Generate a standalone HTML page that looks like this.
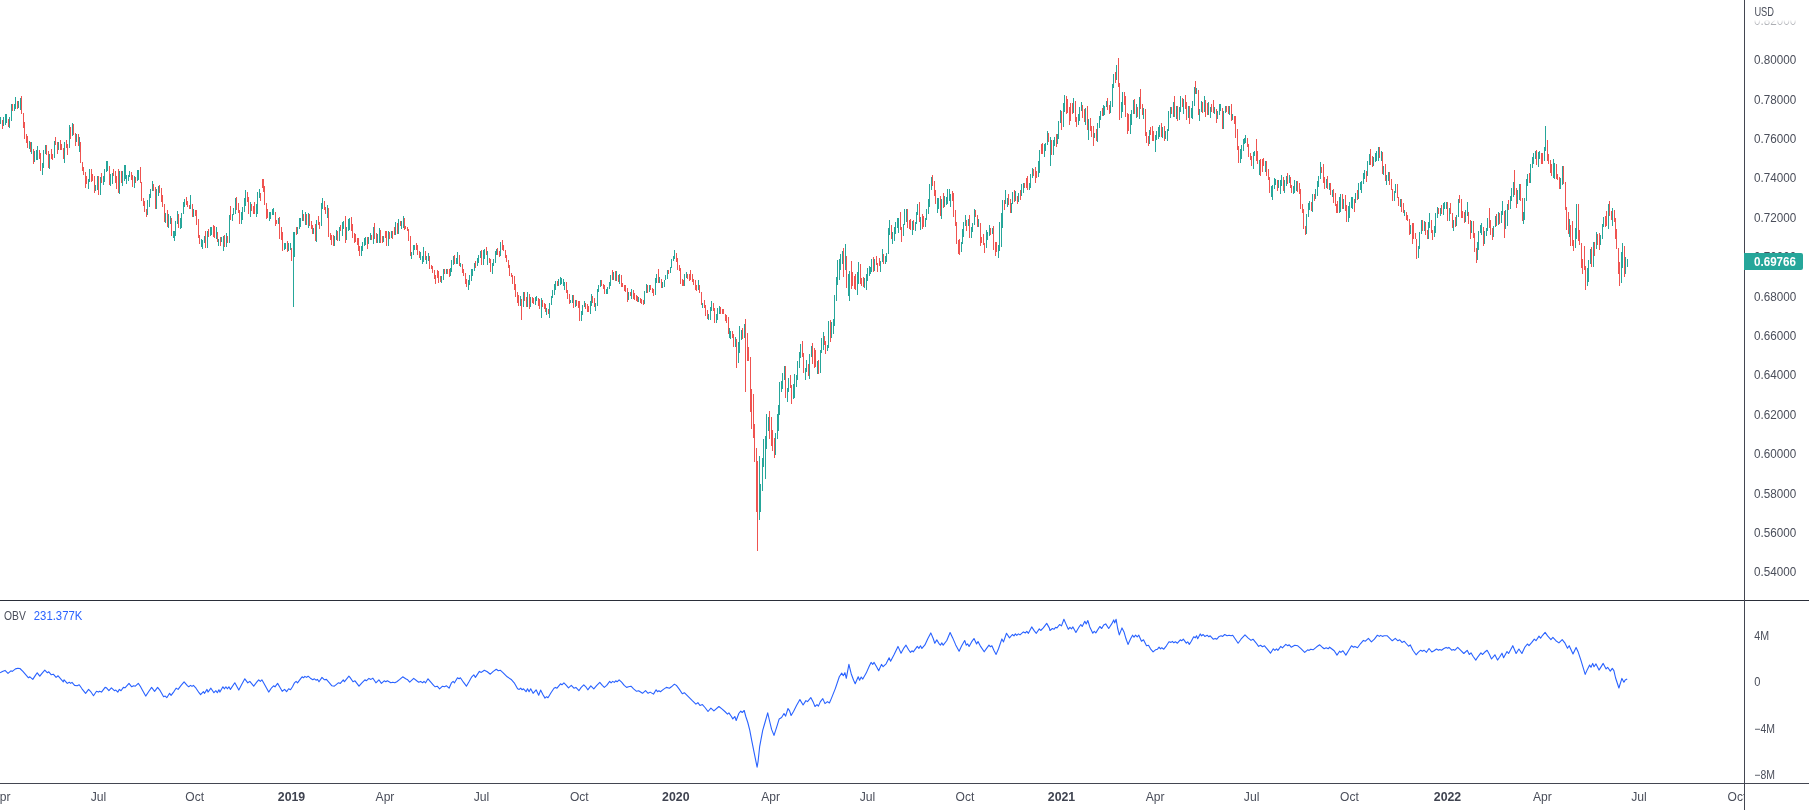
<!DOCTYPE html>
<html><head><meta charset="utf-8"><title>Chart</title>
<style>
html,body{margin:0;padding:0;background:#fff;}
body{width:1809px;height:810px;overflow:hidden;font-family:"Liberation Sans",sans-serif;}
svg{display:block;font-family:"Liberation Sans",sans-serif;}
</style></head><body>
<svg width="1809" height="810" viewBox="0 0 1809 810">
<defs>
<linearGradient id="fade" x1="0" y1="0" x2="0" y2="1"><stop offset="0" stop-color="#fff" stop-opacity="1"/><stop offset="0.66" stop-color="#fff" stop-opacity="1"/><stop offset="1" stop-color="#fff" stop-opacity="0"/></linearGradient>
<clipPath id="tclip"><rect x="0" y="784" width="1744" height="26"/></clipPath>
<clipPath id="pclip"><rect x="0" y="0" width="1744" height="600"/></clipPath>
<filter id="nf" filterUnits="userSpaceOnUse" x="0" y="0" width="1809" height="810"><feOffset dx="0" dy="0"/></filter>
</defs>
<rect width="1809" height="810" fill="#ffffff"/>
<!-- candles -->
<g shape-rendering="crispEdges" clip-path="url(#pclip)">
<path fill="#26a69a" d="M0 117h1v7h-1zM3 117h1v9h-1zM5 114h1v11h-1zM6 114h1v9h-1zM9 117h1v11h-1zM11 104h1v17h-1zM14 104h1v7h-1zM15 97h1v12h-1zM18 101h1v7h-1zM20 98h1v12h-1zM29 141h1v8h-1zM31 142h1v12h-1zM34 151h1v11h-1zM36 150h1v10h-1zM37 146h1v14h-1zM42 163h1v12h-1zM43 150h1v18h-1zM45 145h1v9h-1zM49 154h1v15h-1zM54 141h1v17h-1zM58 142h1v8h-1zM64 142h1v21h-1zM69 125h1v23h-1zM72 123h1v13h-1zM76 134h1v8h-1zM79 137h1v15h-1zM88 179h1v10h-1zM89 169h1v13h-1zM95 185h1v6h-1zM97 176h1v14h-1zM100 177h1v18h-1zM103 176h1v9h-1zM104 169h1v13h-1zM106 161h1v11h-1zM107 161h1v10h-1zM110 174h1v12h-1zM112 173h1v11h-1zM119 171h1v23h-1zM122 171h1v15h-1zM124 165h1v16h-1zM125 165h1v14h-1zM126 175h1v9h-1zM128 175h1v6h-1zM129 171h1v6h-1zM134 176h1v12h-1zM137 170h1v11h-1zM138 170h1v10h-1zM147 200h1v15h-1zM149 194h1v13h-1zM150 189h1v9h-1zM152 181h1v10h-1zM156 189h1v20h-1zM158 186h1v10h-1zM165 213h1v10h-1zM168 214h1v14h-1zM170 216h1v8h-1zM173 231h1v7h-1zM174 231h1v10h-1zM175 221h1v15h-1zM177 211h1v13h-1zM180 218h1v11h-1zM181 213h1v15h-1zM183 202h1v12h-1zM184 199h1v8h-1zM190 195h1v14h-1zM193 209h1v8h-1zM201 239h1v8h-1zM202 240h1v9h-1zM204 236h1v7h-1zM207 231h1v17h-1zM210 227h1v9h-1zM211 227h1v8h-1zM216 227h1v12h-1zM218 239h1v7h-1zM221 237h1v5h-1zM223 236h1v15h-1zM226 233h1v14h-1zM229 215h1v28h-1zM232 214h1v7h-1zM233 208h1v7h-1zM235 198h1v16h-1zM241 212h1v12h-1zM242 207h1v13h-1zM244 198h1v14h-1zM245 190h1v16h-1zM250 202h1v15h-1zM256 204h1v13h-1zM257 192h1v22h-1zM259 189h1v9h-1zM269 212h1v9h-1zM270 212h1v7h-1zM272 209h1v6h-1zM273 208h1v7h-1zM278 218h1v6h-1zM284 243h1v7h-1zM285 243h1v6h-1zM288 243h1v8h-1zM290 243h1v7h-1zM293 232h1v75h-1zM294 232h1v25h-1zM297 227h1v7h-1zM299 218h1v11h-1zM300 218h1v9h-1zM302 210h1v11h-1zM305 212h1v13h-1zM308 213h1v15h-1zM313 228h1v6h-1zM316 220h1v22h-1zM321 203h1v23h-1zM322 198h1v11h-1zM327 205h1v13h-1zM334 236h1v10h-1zM336 230h1v10h-1zM339 227h1v14h-1zM342 222h1v14h-1zM343 221h1v8h-1zM346 227h1v13h-1zM348 219h1v12h-1zM349 218h1v12h-1zM361 246h1v10h-1zM362 242h1v9h-1zM364 238h1v8h-1zM365 237h1v8h-1zM368 237h1v7h-1zM370 233h1v7h-1zM373 227h1v17h-1zM377 234h1v9h-1zM379 228h1v15h-1zM383 236h1v6h-1zM388 231h1v15h-1zM391 231h1v7h-1zM395 222h1v13h-1zM398 219h1v15h-1zM401 221h1v8h-1zM403 216h1v12h-1zM411 252h1v7h-1zM413 245h1v10h-1zM414 245h1v5h-1zM420 252h1v8h-1zM422 256h1v8h-1zM423 247h1v15h-1zM426 256h1v8h-1zM428 253h1v8h-1zM441 276h1v7h-1zM443 269h1v11h-1zM446 269h1v5h-1zM450 268h1v8h-1zM451 260h1v12h-1zM453 256h1v9h-1zM456 258h1v6h-1zM457 252h1v12h-1zM460 263h1v4h-1zM468 280h1v10h-1zM469 275h1v10h-1zM471 269h1v12h-1zM472 269h1v7h-1zM474 263h1v8h-1zM477 258h1v8h-1zM478 255h1v8h-1zM480 251h1v7h-1zM483 250h1v15h-1zM484 249h1v10h-1zM487 251h1v14h-1zM492 263h1v11h-1zM493 259h1v7h-1zM495 251h1v12h-1zM496 249h1v6h-1zM500 242h1v14h-1zM520 296h1v10h-1zM523 292h1v15h-1zM527 292h1v15h-1zM530 297h1v10h-1zM535 297h1v8h-1zM536 296h1v5h-1zM541 298h1v20h-1zM546 308h1v7h-1zM549 303h1v15h-1zM551 296h1v9h-1zM552 290h1v8h-1zM554 284h1v11h-1zM555 281h1v9h-1zM558 279h1v7h-1zM560 277h1v8h-1zM561 278h1v6h-1zM563 279h1v7h-1zM564 282h1v8h-1zM570 300h1v3h-1zM572 295h1v8h-1zM575 300h1v7h-1zM581 311h1v10h-1zM582 305h1v10h-1zM584 301h1v6h-1zM590 301h1v13h-1zM591 294h1v12h-1zM595 303h1v8h-1zM597 289h1v17h-1zM598 285h1v7h-1zM600 280h1v7h-1zM606 289h1v5h-1zM607 287h1v7h-1zM609 282h1v7h-1zM610 275h1v11h-1zM613 272h1v8h-1zM616 271h1v10h-1zM619 274h1v10h-1zM628 292h1v8h-1zM631 289h1v10h-1zM638 297h1v5h-1zM644 291h1v13h-1zM646 284h1v9h-1zM649 285h1v7h-1zM655 278h1v17h-1zM656 274h1v9h-1zM659 277h1v6h-1zM662 282h1v6h-1zM664 280h1v7h-1zM665 275h1v5h-1zM667 270h1v9h-1zM670 267h1v6h-1zM671 259h1v9h-1zM673 256h1v5h-1zM674 250h1v9h-1zM684 274h1v12h-1zM686 272h1v6h-1zM698 280h1v10h-1zM702 303h1v5h-1zM708 314h1v6h-1zM710 307h1v13h-1zM711 301h1v10h-1zM716 314h1v9h-1zM717 308h1v12h-1zM719 306h1v8h-1zM729 328h1v10h-1zM730 331h1v8h-1zM735 337h1v10h-1zM738 342h1v21h-1zM739 326h1v27h-1zM741 330h1v10h-1zM744 324h1v14h-1zM759 456h1v64h-1zM760 484h1v28h-1zM762 458h1v33h-1zM763 439h1v28h-1zM765 436h1v43h-1zM766 414h1v35h-1zM768 417h1v14h-1zM775 433h1v22h-1zM777 414h1v25h-1zM778 405h1v26h-1zM779 382h1v33h-1zM781 381h1v11h-1zM782 373h1v16h-1zM784 366h1v14h-1zM787 388h1v14h-1zM788 378h1v14h-1zM793 384h1v15h-1zM794 374h1v24h-1zM796 375h1v12h-1zM797 361h1v19h-1zM799 352h1v16h-1zM800 344h1v14h-1zM805 368h1v12h-1zM806 360h1v12h-1zM809 354h1v25h-1zM811 346h1v11h-1zM817 361h1v13h-1zM820 350h1v23h-1zM821 338h1v15h-1zM823 332h1v18h-1zM827 345h1v6h-1zM828 321h1v27h-1zM831 322h1v16h-1zM833 319h1v15h-1zM834 295h1v31h-1zM836 277h1v24h-1zM837 260h1v25h-1zM839 259h1v21h-1zM840 254h1v16h-1zM842 251h1v13h-1zM845 244h1v26h-1zM848 274h1v22h-1zM849 271h1v30h-1zM857 272h1v23h-1zM858 262h1v22h-1zM864 278h1v10h-1zM866 274h1v16h-1zM867 268h1v13h-1zM869 266h1v10h-1zM870 267h1v7h-1zM871 259h1v13h-1zM874 259h1v12h-1zM880 261h1v11h-1zM882 249h1v13h-1zM885 256h1v8h-1zM886 253h1v9h-1zM888 228h1v26h-1zM889 220h1v15h-1zM892 232h1v12h-1zM894 227h1v14h-1zM895 222h1v12h-1zM897 218h1v10h-1zM898 218h1v15h-1zM903 224h1v12h-1zM904 209h1v16h-1zM906 209h1v13h-1zM912 221h1v14h-1zM915 222h1v9h-1zM916 212h1v12h-1zM917 204h1v11h-1zM920 217h1v13h-1zM925 218h1v9h-1zM926 209h1v11h-1zM928 199h1v15h-1zM929 184h1v23h-1zM931 177h1v13h-1zM937 198h1v15h-1zM938 198h1v11h-1zM941 199h1v20h-1zM944 196h1v11h-1zM946 197h1v8h-1zM947 189h1v15h-1zM949 189h1v12h-1zM950 194h1v13h-1zM961 242h1v10h-1zM962 229h1v15h-1zM963 222h1v15h-1zM965 215h1v11h-1zM968 219h1v7h-1zM971 227h1v11h-1zM972 223h1v9h-1zM974 209h1v16h-1zM978 219h1v8h-1zM986 230h1v18h-1zM987 232h1v8h-1zM989 225h1v11h-1zM992 228h1v6h-1zM998 245h1v13h-1zM999 222h1v29h-1zM1001 213h1v34h-1zM1002 200h1v28h-1zM1005 190h1v14h-1zM1007 198h1v9h-1zM1011 203h1v10h-1zM1012 192h1v12h-1zM1015 191h1v10h-1zM1018 193h1v9h-1zM1021 184h1v12h-1zM1023 183h1v10h-1zM1029 183h1v7h-1zM1030 174h1v14h-1zM1032 168h1v10h-1zM1038 161h1v16h-1zM1039 150h1v23h-1zM1044 144h1v13h-1zM1045 143h1v8h-1zM1047 131h1v14h-1zM1050 137h1v29h-1zM1053 140h1v15h-1zM1054 137h1v9h-1zM1057 134h1v10h-1zM1058 121h1v18h-1zM1060 110h1v13h-1zM1063 103h1v24h-1zM1064 95h1v17h-1zM1073 98h1v15h-1zM1078 114h1v11h-1zM1079 107h1v14h-1zM1081 102h1v9h-1zM1085 108h1v17h-1zM1088 119h1v21h-1zM1094 133h1v5h-1zM1097 123h1v19h-1zM1099 116h1v12h-1zM1100 111h1v9h-1zM1103 105h1v11h-1zM1104 106h1v9h-1zM1106 101h1v6h-1zM1110 101h1v12h-1zM1112 84h1v23h-1zM1113 74h1v14h-1zM1116 65h1v15h-1zM1121 102h1v16h-1zM1122 92h1v20h-1zM1130 114h1v20h-1zM1131 110h1v15h-1zM1133 100h1v14h-1zM1136 104h1v14h-1zM1139 97h1v22h-1zM1143 108h1v11h-1zM1149 130h1v14h-1zM1155 135h1v17h-1zM1156 131h1v9h-1zM1158 127h1v12h-1zM1159 125h1v12h-1zM1162 127h1v11h-1zM1165 131h1v8h-1zM1167 129h1v12h-1zM1168 111h1v20h-1zM1170 107h1v11h-1zM1173 102h1v15h-1zM1176 106h1v13h-1zM1179 107h1v13h-1zM1180 96h1v16h-1zM1183 99h1v15h-1zM1188 106h1v12h-1zM1191 108h1v10h-1zM1192 101h1v18h-1zM1194 87h1v19h-1zM1196 88h1v6h-1zM1199 109h1v12h-1zM1201 101h1v11h-1zM1204 96h1v16h-1zM1208 102h1v13h-1zM1210 107h1v11h-1zM1214 107h1v7h-1zM1217 111h1v8h-1zM1219 104h1v11h-1zM1220 104h1v7h-1zM1223 111h1v18h-1zM1225 106h1v7h-1zM1229 106h1v9h-1zM1232 114h1v6h-1zM1240 149h1v14h-1zM1241 145h1v14h-1zM1243 139h1v12h-1zM1244 138h1v6h-1zM1245 135h1v8h-1zM1253 152h1v17h-1zM1254 151h1v5h-1zM1259 160h1v15h-1zM1265 161h1v11h-1zM1271 186h1v11h-1zM1272 185h1v15h-1zM1274 178h1v11h-1zM1275 179h1v6h-1zM1278 180h1v8h-1zM1280 180h1v14h-1zM1281 175h1v11h-1zM1284 180h1v13h-1zM1286 176h1v10h-1zM1289 175h1v8h-1zM1293 186h1v8h-1zM1294 180h1v13h-1zM1296 181h1v10h-1zM1306 214h1v20h-1zM1308 203h1v14h-1zM1309 201h1v9h-1zM1312 194h1v18h-1zM1315 189h1v10h-1zM1317 181h1v15h-1zM1318 176h1v11h-1zM1320 162h1v17h-1zM1326 179h1v9h-1zM1329 183h1v7h-1zM1332 190h1v7h-1zM1339 197h1v16h-1zM1340 194h1v18h-1zM1343 199h1v10h-1zM1348 206h1v16h-1zM1349 202h1v16h-1zM1351 197h1v11h-1zM1352 197h1v12h-1zM1355 193h1v10h-1zM1358 183h1v16h-1zM1360 182h1v8h-1zM1361 181h1v12h-1zM1363 173h1v11h-1zM1364 170h1v9h-1zM1367 161h1v15h-1zM1369 154h1v11h-1zM1373 157h1v9h-1zM1375 153h1v9h-1zM1376 151h1v10h-1zM1378 147h1v14h-1zM1381 151h1v10h-1zM1383 166h1v9h-1zM1386 175h1v10h-1zM1388 172h1v9h-1zM1394 191h1v10h-1zM1395 184h1v9h-1zM1400 199h1v8h-1zM1404 210h1v6h-1zM1410 225h1v9h-1zM1418 246h1v12h-1zM1419 232h1v17h-1zM1421 220h1v14h-1zM1424 221h1v10h-1zM1428 222h1v17h-1zM1429 213h1v15h-1zM1434 226h1v11h-1zM1435 213h1v20h-1zM1437 207h1v11h-1zM1440 208h1v8h-1zM1443 203h1v12h-1zM1444 202h1v7h-1zM1446 202h1v7h-1zM1449 208h1v13h-1zM1453 220h1v11h-1zM1456 215h1v11h-1zM1458 199h1v18h-1zM1465 210h1v12h-1zM1467 202h1v14h-1zM1471 221h1v12h-1zM1477 242h1v18h-1zM1478 231h1v19h-1zM1480 225h1v8h-1zM1481 223h1v12h-1zM1484 231h1v13h-1zM1486 228h1v8h-1zM1487 218h1v13h-1zM1493 226h1v11h-1zM1495 216h1v11h-1zM1498 212h1v13h-1zM1501 211h1v12h-1zM1502 201h1v14h-1zM1505 210h1v19h-1zM1507 204h1v22h-1zM1510 196h1v13h-1zM1511 188h1v13h-1zM1513 182h1v15h-1zM1517 190h1v14h-1zM1519 184h1v16h-1zM1523 212h1v12h-1zM1524 198h1v22h-1zM1526 179h1v22h-1zM1527 174h1v12h-1zM1530 164h1v19h-1zM1532 157h1v11h-1zM1533 153h1v11h-1zM1535 151h1v8h-1zM1538 152h1v15h-1zM1539 151h1v8h-1zM1544 147h1v14h-1zM1545 126h1v25h-1zM1553 159h1v19h-1zM1554 163h1v16h-1zM1560 178h1v11h-1zM1562 166h1v19h-1zM1569 219h1v18h-1zM1575 228h1v20h-1zM1576 204h1v35h-1zM1587 268h1v18h-1zM1588 260h1v22h-1zM1590 249h1v15h-1zM1593 242h1v25h-1zM1596 232h1v17h-1zM1600 235h1v10h-1zM1602 224h1v15h-1zM1603 217h1v10h-1zM1608 204h1v25h-1zM1612 208h1v18h-1zM1621 252h1v31h-1zM1622 243h1v25h-1zM1625 257h1v17h-1zM1627 259h1v8h-1z"/>
<path fill="#ef5350" d="M2 120h1v9h-1zM8 119h1v8h-1zM12 104h1v7h-1zM17 101h1v8h-1zM21 96h1v18h-1zM23 113h1v15h-1zM24 122h1v17h-1zM26 134h1v9h-1zM27 136h1v12h-1zM30 142h1v10h-1zM33 149h1v15h-1zM39 150h1v9h-1zM40 153h1v18h-1zM46 145h1v10h-1zM48 151h1v17h-1zM51 149h1v10h-1zM52 154h1v6h-1zM55 137h1v8h-1zM57 142h1v12h-1zM60 140h1v10h-1zM61 144h1v6h-1zM63 148h1v11h-1zM66 140h1v8h-1zM67 144h1v11h-1zM70 127h1v12h-1zM73 124h1v11h-1zM75 133h1v13h-1zM78 134h1v12h-1zM80 142h1v21h-1zM82 162h1v9h-1zM83 167h1v8h-1zM85 172h1v16h-1zM86 176h1v8h-1zM91 169h1v13h-1zM92 174h1v7h-1zM94 176h1v17h-1zM98 176h1v19h-1zM101 173h1v10h-1zM109 166h1v19h-1zM113 169h1v7h-1zM115 171h1v12h-1zM116 176h1v13h-1zM118 169h1v24h-1zM121 171h1v12h-1zM131 172h1v8h-1zM132 175h1v12h-1zM135 177h1v6h-1zM140 167h1v16h-1zM141 182h1v19h-1zM143 198h1v8h-1zM144 201h1v11h-1zM146 209h1v8h-1zM153 184h1v7h-1zM155 187h1v22h-1zM159 185h1v8h-1zM161 188h1v14h-1zM162 195h1v12h-1zM164 204h1v18h-1zM167 210h1v17h-1zM171 218h1v18h-1zM178 214h1v14h-1zM186 197h1v8h-1zM187 201h1v6h-1zM189 205h1v4h-1zM192 204h1v13h-1zM195 210h1v6h-1zM196 210h1v15h-1zM198 219h1v19h-1zM199 235h1v9h-1zM205 231h1v17h-1zM208 229h1v8h-1zM213 225h1v12h-1zM214 226h1v12h-1zM217 232h1v10h-1zM220 237h1v9h-1zM224 235h1v12h-1zM227 236h1v7h-1zM230 206h1v14h-1zM236 197h1v13h-1zM238 203h1v10h-1zM239 210h1v14h-1zM247 192h1v10h-1zM248 197h1v17h-1zM251 204h1v7h-1zM253 206h1v8h-1zM254 202h1v12h-1zM260 193h1v8h-1zM262 179h1v9h-1zM263 179h1v13h-1zM264 186h1v19h-1zM266 203h1v16h-1zM267 209h1v9h-1zM275 212h1v14h-1zM276 220h1v4h-1zM279 217h1v22h-1zM281 227h1v13h-1zM282 232h1v19h-1zM287 241h1v11h-1zM291 248h1v13h-1zM296 227h1v8h-1zM303 214h1v7h-1zM306 214h1v11h-1zM309 214h1v12h-1zM311 221h1v8h-1zM312 225h1v9h-1zM315 224h1v17h-1zM318 216h1v9h-1zM319 222h1v7h-1zM324 201h1v9h-1zM325 207h1v7h-1zM328 208h1v29h-1zM330 233h1v7h-1zM331 235h1v10h-1zM333 235h1v11h-1zM337 231h1v10h-1zM340 225h1v6h-1zM345 216h1v27h-1zM351 217h1v14h-1zM352 224h1v14h-1zM354 233h1v10h-1zM355 234h1v8h-1zM357 238h1v7h-1zM358 238h1v13h-1zM359 246h1v10h-1zM367 237h1v12h-1zM371 235h1v5h-1zM374 223h1v16h-1zM376 233h1v10h-1zM380 230h1v13h-1zM382 236h1v7h-1zM385 231h1v7h-1zM386 231h1v15h-1zM389 232h1v7h-1zM392 231h1v8h-1zM394 227h1v8h-1zM397 223h1v11h-1zM400 221h1v5h-1zM404 218h1v12h-1zM405 226h1v3h-1zM407 227h1v4h-1zM408 229h1v12h-1zM410 236h1v20h-1zM416 243h1v7h-1zM417 245h1v10h-1zM419 251h1v7h-1zM425 251h1v9h-1zM429 256h1v13h-1zM431 265h1v4h-1zM432 266h1v7h-1zM434 270h1v9h-1zM435 275h1v9h-1zM437 270h1v8h-1zM438 271h1v12h-1zM440 276h1v6h-1zM444 269h1v5h-1zM447 269h1v5h-1zM449 269h1v8h-1zM454 255h1v9h-1zM459 255h1v11h-1zM462 264h1v9h-1zM463 269h1v7h-1zM465 273h1v11h-1zM466 279h1v8h-1zM475 261h1v7h-1zM481 250h1v15h-1zM486 247h1v8h-1zM489 258h1v5h-1zM490 259h1v13h-1zM497 248h1v7h-1zM499 251h1v6h-1zM502 240h1v10h-1zM503 245h1v6h-1zM505 250h1v8h-1zM506 255h1v7h-1zM508 260h1v8h-1zM509 265h1v11h-1zM511 273h1v4h-1zM512 275h1v9h-1zM514 276h1v14h-1zM515 284h1v13h-1zM517 292h1v11h-1zM518 295h1v11h-1zM521 299h1v21h-1zM524 292h1v9h-1zM526 297h1v10h-1zM529 294h1v15h-1zM532 297h1v6h-1zM533 298h1v6h-1zM538 298h1v8h-1zM539 299h1v10h-1zM542 300h1v7h-1zM544 303h1v6h-1zM545 304h1v8h-1zM548 309h1v5h-1zM557 281h1v5h-1zM566 282h1v11h-1zM567 290h1v9h-1zM569 294h1v10h-1zM573 295h1v13h-1zM576 300h1v6h-1zM578 301h1v7h-1zM579 301h1v20h-1zM585 303h1v6h-1zM587 304h1v8h-1zM588 306h1v6h-1zM592 296h1v7h-1zM594 298h1v9h-1zM601 280h1v6h-1zM603 284h1v5h-1zM604 285h1v9h-1zM612 270h1v10h-1zM615 271h1v10h-1zM618 275h1v7h-1zM621 275h1v12h-1zM622 283h1v4h-1zM624 285h1v6h-1zM625 285h1v7h-1zM627 288h1v14h-1zM630 292h1v4h-1zM633 290h1v9h-1zM634 293h1v7h-1zM636 295h1v6h-1zM637 296h1v6h-1zM640 298h1v5h-1zM641 299h1v5h-1zM643 300h1v5h-1zM647 285h1v8h-1zM650 285h1v5h-1zM652 288h1v5h-1zM653 289h1v7h-1zM658 269h1v14h-1zM661 279h1v9h-1zM668 270h1v4h-1zM676 253h1v9h-1zM677 258h1v12h-1zM679 265h1v6h-1zM680 268h1v16h-1zM682 279h1v7h-1zM683 280h1v6h-1zM687 274h1v5h-1zM689 274h1v7h-1zM690 270h1v10h-1zM692 274h1v8h-1zM693 279h1v6h-1zM695 280h1v10h-1zM696 285h1v6h-1zM699 285h1v8h-1zM701 292h1v13h-1zM704 300h1v8h-1zM705 305h1v11h-1zM707 310h1v9h-1zM713 303h1v8h-1zM714 308h1v15h-1zM720 307h1v7h-1zM722 309h1v5h-1zM723 309h1v5h-1zM725 314h1v7h-1zM726 315h1v8h-1zM728 317h1v17h-1zM732 331h1v7h-1zM733 334h1v13h-1zM736 339h1v29h-1zM742 328h1v11h-1zM745 319h1v73h-1zM747 333h1v28h-1zM748 347h1v14h-1zM750 357h1v55h-1zM751 389h1v40h-1zM753 394h1v44h-1zM754 424h1v38h-1zM756 448h1v64h-1zM757 461h1v90h-1zM769 411h1v28h-1zM771 417h1v29h-1zM772 430h1v21h-1zM774 438h1v20h-1zM785 366h1v32h-1zM790 375h1v13h-1zM791 385h1v19h-1zM802 341h1v16h-1zM803 353h1v20h-1zM808 364h1v12h-1zM812 343h1v21h-1zM814 348h1v20h-1zM815 350h1v17h-1zM818 360h1v14h-1zM824 336h1v9h-1zM825 341h1v13h-1zM830 320h1v22h-1zM843 248h1v29h-1zM846 256h1v32h-1zM851 261h1v28h-1zM852 272h1v14h-1zM854 276h1v13h-1zM855 274h1v16h-1zM860 264h1v20h-1zM861 278h1v8h-1zM863 277h1v10h-1zM873 257h1v15h-1zM876 256h1v9h-1zM877 263h1v9h-1zM879 258h1v8h-1zM883 254h1v10h-1zM891 225h1v14h-1zM900 212h1v18h-1zM901 227h1v15h-1zM907 209h1v19h-1zM909 220h1v9h-1zM910 219h1v11h-1zM913 220h1v10h-1zM919 202h1v20h-1zM922 214h1v15h-1zM923 216h1v11h-1zM932 175h1v11h-1zM934 181h1v15h-1zM935 190h1v14h-1zM940 196h1v20h-1zM943 193h1v15h-1zM952 191h1v10h-1zM953 193h1v24h-1zM955 210h1v16h-1zM956 222h1v22h-1zM958 240h1v14h-1zM959 239h1v16h-1zM966 220h1v11h-1zM969 215h1v23h-1zM975 210h1v7h-1zM977 215h1v12h-1zM980 223h1v23h-1zM981 237h1v6h-1zM983 234h1v11h-1zM984 243h1v10h-1zM990 228h1v7h-1zM993 226h1v24h-1zM995 242h1v14h-1zM996 242h1v10h-1zM1004 200h1v10h-1zM1008 194h1v11h-1zM1010 199h1v14h-1zM1014 190h1v12h-1zM1017 196h1v8h-1zM1020 190h1v10h-1zM1024 183h1v5h-1zM1026 178h1v10h-1zM1027 176h1v14h-1zM1033 169h1v7h-1zM1035 167h1v16h-1zM1036 171h1v7h-1zM1041 144h1v10h-1zM1042 143h1v11h-1zM1048 133h1v9h-1zM1051 140h1v15h-1zM1056 134h1v13h-1zM1061 111h1v19h-1zM1066 96h1v18h-1zM1067 99h1v14h-1zM1069 107h1v18h-1zM1070 103h1v18h-1zM1072 103h1v11h-1zM1075 101h1v21h-1zM1076 117h1v10h-1zM1082 105h1v13h-1zM1084 109h1v13h-1zM1087 106h1v24h-1zM1090 118h1v13h-1zM1091 126h1v11h-1zM1093 126h1v20h-1zM1096 129h1v12h-1zM1102 108h1v8h-1zM1107 98h1v12h-1zM1109 105h1v9h-1zM1115 72h1v11h-1zM1118 58h1v29h-1zM1119 83h1v37h-1zM1124 92h1v13h-1zM1125 96h1v21h-1zM1127 113h1v21h-1zM1128 114h1v17h-1zM1134 99h1v15h-1zM1137 107h1v10h-1zM1140 89h1v20h-1zM1142 104h1v11h-1zM1145 109h1v27h-1zM1146 132h1v11h-1zM1148 136h1v10h-1zM1150 127h1v8h-1zM1152 126h1v15h-1zM1153 131h1v10h-1zM1161 123h1v14h-1zM1164 126h1v15h-1zM1171 107h1v7h-1zM1174 96h1v21h-1zM1177 106h1v15h-1zM1182 98h1v9h-1zM1185 95h1v14h-1zM1186 102h1v18h-1zM1189 106h1v18h-1zM1195 81h1v13h-1zM1198 90h1v25h-1zM1202 102h1v11h-1zM1205 100h1v17h-1zM1207 103h1v12h-1zM1211 104h1v8h-1zM1213 100h1v13h-1zM1216 109h1v14h-1zM1222 108h1v21h-1zM1226 106h1v6h-1zM1228 106h1v8h-1zM1231 104h1v17h-1zM1234 116h1v8h-1zM1235 116h1v22h-1zM1237 129h1v21h-1zM1238 146h1v17h-1zM1247 138h1v9h-1zM1248 144h1v13h-1zM1250 153h1v7h-1zM1251 156h1v10h-1zM1256 139h1v22h-1zM1257 151h1v13h-1zM1260 159h1v17h-1zM1262 159h1v13h-1zM1263 158h1v8h-1zM1266 161h1v15h-1zM1268 169h1v11h-1zM1269 177h1v16h-1zM1277 180h1v11h-1zM1283 177h1v14h-1zM1287 173h1v11h-1zM1290 177h1v11h-1zM1291 185h1v8h-1zM1297 181h1v11h-1zM1299 183h1v11h-1zM1300 189h1v20h-1zM1302 204h1v9h-1zM1303 209h1v20h-1zM1305 226h1v9h-1zM1311 202h1v9h-1zM1314 194h1v7h-1zM1321 167h1v6h-1zM1323 164h1v19h-1zM1324 177h1v12h-1zM1327 176h1v13h-1zM1330 183h1v12h-1zM1333 189h1v14h-1zM1335 193h1v13h-1zM1336 204h1v9h-1zM1337 201h1v12h-1zM1342 194h1v15h-1zM1345 195h1v16h-1zM1346 205h1v17h-1zM1354 199h1v13h-1zM1357 190h1v10h-1zM1366 171h1v11h-1zM1370 149h1v16h-1zM1372 156h1v11h-1zM1379 147h1v11h-1zM1382 152h1v22h-1zM1385 164h1v17h-1zM1389 172h1v13h-1zM1391 179h1v11h-1zM1392 189h1v12h-1zM1397 184h1v14h-1zM1398 197h1v9h-1zM1401 199h1v13h-1zM1403 203h1v10h-1zM1406 212h1v8h-1zM1407 215h1v6h-1zM1409 219h1v16h-1zM1412 223h1v21h-1zM1413 223h1v16h-1zM1415 233h1v6h-1zM1416 239h1v20h-1zM1422 220h1v11h-1zM1425 222h1v13h-1zM1427 230h1v9h-1zM1431 220h1v13h-1zM1432 230h1v10h-1zM1438 208h1v6h-1zM1441 205h1v9h-1zM1447 202h1v19h-1zM1450 203h1v11h-1zM1452 213h1v15h-1zM1455 217h1v10h-1zM1459 195h1v8h-1zM1461 199h1v19h-1zM1462 211h1v7h-1zM1464 212h1v11h-1zM1468 212h1v12h-1zM1470 220h1v19h-1zM1473 221h1v17h-1zM1474 233h1v19h-1zM1476 248h1v15h-1zM1483 227h1v19h-1zM1489 208h1v20h-1zM1490 220h1v15h-1zM1492 228h1v12h-1zM1496 214h1v12h-1zM1499 213h1v11h-1zM1504 211h1v27h-1zM1508 200h1v10h-1zM1514 170h1v25h-1zM1516 188h1v20h-1zM1520 184h1v17h-1zM1522 198h1v23h-1zM1529 173h1v10h-1zM1536 150h1v15h-1zM1541 153h1v11h-1zM1542 153h1v11h-1zM1547 140h1v21h-1zM1548 154h1v10h-1zM1550 160h1v13h-1zM1551 164h1v12h-1zM1556 164h1v15h-1zM1557 174h1v6h-1zM1559 177h1v12h-1zM1563 166h1v18h-1zM1565 182h1v28h-1zM1566 207h1v23h-1zM1568 212h1v22h-1zM1570 225h1v21h-1zM1572 221h1v25h-1zM1573 240h1v11h-1zM1578 204h1v37h-1zM1579 230h1v15h-1zM1581 243h1v25h-1zM1582 259h1v15h-1zM1584 246h1v24h-1zM1585 266h1v24h-1zM1591 247h1v20h-1zM1594 242h1v14h-1zM1597 234h1v11h-1zM1599 233h1v17h-1zM1605 216h1v11h-1zM1606 211h1v15h-1zM1609 201h1v15h-1zM1611 211h1v9h-1zM1614 210h1v12h-1zM1615 218h1v21h-1zM1616 229h1v20h-1zM1618 248h1v26h-1zM1619 262h1v24h-1zM1624 246h1v31h-1z"/>
</g>
<!-- obv line -->
<path d="M0.0 672.8 L2.4 671.4 L5.0 670.4 L8.0 673.4 L10.9 670.8 L12.3 671.4 L15.5 668.9 L17.9 668.3 L19.9 668.5 L22.9 671.4 L25.9 674.8 L28.5 677.8 L29.9 676.8 L32.8 679.4 L35.4 675.4 L37.2 672.8 L39.8 676.2 L42.4 672.8 L44.8 670.2 L47.4 672.8 L48.8 671.8 L51.3 674.8 L53.3 674.2 L56.1 677.4 L58.1 675.8 L60.7 678.8 L63.3 681.8 L64.1 679.8 L67.3 683.4 L69.3 682.2 L70.6 683.4 L72.0 682.4 L74.6 685.4 L77.2 685.8 L79.2 684.8 L82.0 688.8 L85.6 693.3 L88.6 689.4 L90.5 691.3 L93.5 695.7 L96.5 691.3 L98.5 692.1 L99.5 691.3 L101.5 692.1 L105.1 687.4 L106.5 687.8 L108.9 690.7 L111.4 687.8 L114.4 690.7 L115.8 690.1 L117.8 692.1 L119.4 689.4 L121.0 690.7 L123.4 687.4 L125.0 687.8 L129.0 683.4 L131.7 686.8 L133.7 685.8 L135.3 686.2 L138.3 683.4 L140.3 686.2 L143.3 691.7 L145.7 696.1 L148.9 691.3 L151.6 687.4 L154.6 691.3 L157.6 687.4 L160.2 690.7 L163.6 696.7 L165.2 696.1 L166.8 697.7 L169.6 693.3 L171.1 695.3 L174.1 691.3 L176.1 688.2 L178.1 689.4 L181.1 685.4 L184.1 681.8 L187.1 685.4 L188.7 686.8 L190.6 685.4 L192.0 686.4 L193.4 685.4 L196.0 688.2 L199.0 692.7 L200.6 694.7 L203.4 691.7 L204.6 693.3 L207.0 689.4 L208.0 692.1 L210.9 688.2 L213.9 692.7 L215.9 690.7 L217.3 692.7 L218.9 689.8 L219.9 692.1 L222.9 686.8 L224.5 688.8 L225.9 686.8 L227.3 688.8 L228.9 686.8 L230.4 689.4 L234.8 682.8 L238.8 690.1 L241.8 684.2 L244.8 678.8 L247.8 682.8 L249.8 681.4 L253.7 686.2 L256.7 682.2 L258.7 679.8 L260.3 681.4 L261.9 679.8 L264.7 684.8 L268.7 692.1 L271.6 687.8 L273.6 685.8 L275.0 686.8 L277.6 683.4 L279.6 686.8 L282.2 691.3 L284.6 689.4 L286.6 691.7 L288.6 688.8 L290.5 689.8 L292.5 686.8 L294.5 682.8 L296.1 681.4 L297.5 682.8 L300.5 678.8 L302.1 676.8 L303.5 677.8 L304.9 676.4 L306.5 677.4 L308.1 676.2 L310.4 678.2 L312.8 679.8 L314.4 678.8 L316.0 680.2 L317.4 679.4 L319.0 681.8 L322.0 677.4 L324.4 679.8 L326.4 679.4 L329.4 682.8 L331.9 685.8 L334.3 686.2 L335.9 684.8 L338.3 682.8 L340.3 683.4 L343.3 679.8 L344.3 681.8 L347.3 678.2 L348.9 676.2 L350.0 677.4 L353.0 681.8 L355.0 680.8 L359.0 686.2 L361.9 682.8 L364.9 679.8 L366.3 680.8 L368.9 678.4 L370.9 679.4 L372.9 678.2 L375.9 682.8 L378.9 679.8 L381.4 683.4 L384.2 680.8 L385.8 681.8 L387.4 680.8 L390.8 682.8 L392.8 682.2 L394.8 682.8 L396.8 681.8 L399.8 679.4 L402.7 676.8 L405.7 678.8 L407.7 679.8 L409.7 682.2 L413.7 678.4 L416.7 680.8 L418.7 682.2 L420.6 681.4 L422.6 682.8 L424.0 681.4 L425.6 682.8 L428.0 678.8 L430.6 681.8 L433.6 685.4 L435.2 686.8 L437.2 686.2 L439.6 688.8 L442.5 686.2 L444.5 686.8 L446.5 685.8 L449.1 688.2 L451.5 682.8 L453.1 681.4 L454.5 682.8 L457.5 677.8 L459.1 678.8 L460.4 677.8 L463.4 682.2 L466.4 686.2 L469.0 681.8 L471.8 676.8 L473.8 674.8 L475.4 677.4 L479.4 671.4 L481.3 672.4 L484.3 670.2 L487.3 671.8 L490.3 674.2 L493.3 671.4 L496.3 669.3 L498.3 670.8 L500.2 670.2 L503.2 672.8 L507.2 676.8 L511.6 679.8 L514.2 682.8 L517.6 688.8 L519.2 689.4 L520.7 688.2 L522.1 689.8 L523.5 688.8 L526.1 691.7 L527.5 688.8 L529.1 691.7 L530.7 688.8 L533.1 693.3 L536.1 689.8 L538.7 695.3 L540.6 690.1 L543.0 694.7 L545.0 698.1 L546.6 696.7 L548.0 697.7 L551.0 692.7 L554.0 688.2 L555.4 687.4 L557.0 688.2 L560.5 683.8 L561.9 684.8 L563.9 682.8 L565.9 684.8 L568.5 687.8 L571.3 685.4 L573.9 688.2 L575.9 687.4 L578.9 690.7 L581.2 687.4 L583.8 684.8 L585.8 686.8 L587.8 689.8 L590.8 685.8 L593.8 688.8 L596.8 685.4 L599.8 682.4 L602.3 685.4 L604.3 687.4 L606.7 685.4 L609.7 681.4 L611.1 682.8 L612.7 681.4 L614.3 682.4 L615.7 680.8 L617.1 681.8 L619.1 679.8 L621.6 682.2 L624.2 685.4 L626.6 687.4 L628.6 686.8 L631.0 686.2 L633.6 688.8 L636.6 691.3 L638.6 690.7 L642.5 693.3 L645.5 690.7 L648.1 693.3 L650.1 692.1 L653.5 694.1 L656.1 689.8 L657.5 691.7 L658.9 690.7 L660.4 691.7 L663.4 689.4 L666.4 687.4 L669.4 688.2 L671.4 686.8 L674.4 684.2 L676.4 685.4 L679.4 689.4 L682.3 693.7 L684.3 692.7 L688.3 696.7 L692.3 700.7 L695.9 704.1 L697.9 702.7 L700.0 705.5 L702.4 704.6 L705.0 707.5 L708.0 711.5 L710.9 708.1 L713.9 710.9 L718.9 706.5 L721.9 708.9 L724.9 711.5 L727.5 714.1 L728.9 712.9 L731.4 716.5 L732.8 718.9 L734.8 716.5 L736.2 720.5 L738.8 713.5 L740.8 711.1 L742.2 712.5 L744.2 710.5 L745.8 716.5 L747.8 722.5 L749.8 730.4 L751.7 740.4 L754.1 752.3 L757.1 767.2 L758.1 761.3 L759.7 746.3 L762.7 730.4 L764.7 723.5 L767.7 712.9 L769.7 721.5 L771.6 729.4 L774.0 735.4 L776.6 727.4 L779.2 718.9 L781.6 717.5 L784.0 713.5 L785.6 716.1 L788.0 708.5 L789.6 710.9 L791.1 715.5 L793.5 711.5 L796.5 705.5 L799.9 699.6 L803.1 705.0 L805.9 700.6 L807.5 701.6 L810.8 697.6 L813.4 702.6 L815.0 706.5 L817.0 704.6 L818.4 706.1 L820.4 701.6 L822.8 698.6 L825.0 703.6 L827.4 701.6 L829.4 703.0 L831.3 698.6 L835.3 688.6 L839.3 676.7 L841.7 673.1 L843.3 675.7 L844.9 672.7 L846.3 678.3 L848.9 664.4 L851.2 673.7 L853.6 680.3 L855.2 683.7 L858.2 676.7 L859.6 680.3 L861.2 677.1 L862.8 679.1 L866.2 673.1 L869.2 666.3 L871.1 662.4 L872.7 664.4 L874.1 662.4 L876.7 667.1 L878.7 670.7 L881.5 664.4 L883.1 666.7 L886.1 663.8 L889.1 657.8 L890.6 661.2 L894.0 654.8 L898.0 646.4 L901.0 653.2 L904.0 647.8 L906.0 645.2 L908.6 649.8 L910.5 652.4 L911.9 650.8 L913.3 651.8 L917.3 646.4 L918.9 648.4 L920.5 645.8 L921.9 648.4 L924.9 644.9 L927.9 638.5 L930.8 632.9 L933.2 638.5 L934.8 643.3 L936.8 639.9 L938.8 643.3 L940.4 645.2 L941.8 642.9 L943.2 645.2 L946.8 640.5 L950.1 632.5 L952.7 637.9 L955.7 644.9 L959.1 651.2 L961.7 645.8 L964.7 640.5 L966.3 645.2 L967.7 643.9 L969.1 646.4 L971.6 641.9 L974.0 638.5 L976.6 643.9 L978.0 641.5 L980.6 646.4 L984.2 651.8 L986.6 648.4 L989.0 645.2 L990.5 646.8 L991.9 645.8 L994.1 650.8 L996.1 654.4 L998.5 648.8 L1001.9 638.9 L1003.5 641.9 L1006.5 633.3 L1009.5 637.9 L1012.4 634.5 L1014.0 635.9 L1015.4 633.9 L1016.8 635.3 L1018.4 633.9 L1020.0 634.9 L1023.4 631.9 L1025.4 632.9 L1026.8 631.3 L1028.4 633.3 L1031.7 626.9 L1034.3 630.9 L1036.3 633.3 L1039.3 628.9 L1040.7 630.5 L1043.3 627.9 L1046.7 623.4 L1049.3 627.9 L1050.0 630.5 L1052.4 628.5 L1054.0 629.3 L1055.6 627.3 L1057.0 627.9 L1059.6 624.5 L1061.5 625.9 L1063.9 619.3 L1065.9 623.9 L1068.3 629.3 L1069.9 627.3 L1071.5 628.9 L1072.9 626.9 L1075.9 632.5 L1078.9 627.3 L1080.8 624.5 L1082.2 626.5 L1084.8 621.3 L1086.2 623.9 L1087.8 620.5 L1089.8 626.9 L1092.8 633.3 L1094.2 631.3 L1095.8 632.9 L1099.8 626.5 L1101.7 628.5 L1103.7 624.9 L1105.7 623.9 L1108.7 628.5 L1111.7 623.9 L1113.7 619.9 L1114.7 622.9 L1116.1 619.3 L1117.7 628.5 L1119.3 634.9 L1122.0 627.9 L1124.0 631.9 L1126.0 638.8 L1128.0 644.4 L1130.6 638.8 L1132.6 635.2 L1134.0 637.2 L1135.6 635.2 L1137.2 636.8 L1138.8 635.2 L1141.5 641.2 L1143.5 639.8 L1146.5 645.8 L1148.5 645.2 L1150.5 648.8 L1153.1 651.8 L1155.5 649.8 L1157.5 649.2 L1159.1 647.2 L1160.4 648.8 L1161.8 647.8 L1163.8 649.2 L1166.4 645.8 L1169.0 641.8 L1171.0 642.4 L1172.4 641.4 L1173.8 642.8 L1175.4 641.8 L1177.4 643.2 L1180.3 639.8 L1181.7 640.8 L1183.3 639.2 L1186.3 643.2 L1187.7 641.8 L1189.3 644.4 L1191.3 641.2 L1193.7 636.8 L1195.3 637.8 L1196.5 635.8 L1197.7 638.8 L1200.2 633.9 L1201.6 635.8 L1203.2 634.5 L1204.8 636.4 L1207.2 635.2 L1208.8 636.8 L1210.2 635.8 L1213.2 639.2 L1215.2 638.4 L1216.8 639.2 L1219.2 636.4 L1221.1 635.8 L1222.7 636.4 L1224.7 634.5 L1227.1 635.8 L1229.1 635.2 L1231.1 635.8 L1232.7 635.2 L1235.1 638.8 L1238.1 643.2 L1241.0 639.2 L1245.0 634.9 L1248.0 637.8 L1251.0 640.4 L1253.0 639.2 L1256.0 642.8 L1258.6 646.4 L1260.5 645.2 L1262.5 646.8 L1264.5 645.8 L1267.3 649.2 L1270.5 653.2 L1273.3 648.8 L1274.9 650.4 L1276.5 648.8 L1277.9 650.4 L1280.8 646.4 L1282.4 647.8 L1285.8 644.4 L1287.8 645.8 L1289.2 644.8 L1291.2 647.2 L1294.8 645.2 L1297.8 645.8 L1300.7 648.4 L1304.7 652.4 L1307.7 649.8 L1309.1 650.4 L1310.7 649.2 L1313.1 649.8 L1316.7 646.8 L1319.7 644.8 L1322.2 647.2 L1324.2 648.8 L1326.2 647.8 L1328.2 648.8 L1329.6 647.2 L1331.6 648.8 L1334.2 650.8 L1337.0 655.1 L1339.6 651.2 L1340.9 652.4 L1342.9 650.8 L1345.9 655.1 L1348.5 650.8 L1351.5 645.8 L1353.5 647.2 L1354.9 646.4 L1357.5 647.8 L1360.4 643.8 L1363.4 640.4 L1365.4 641.2 L1368.4 638.4 L1371.4 641.8 L1374.4 639.2 L1377.4 635.2 L1379.4 636.4 L1380.7 635.4 L1382.3 636.4 L1384.3 635.8 L1387.3 635.8 L1389.3 637.8 L1392.3 640.8 L1395.3 638.4 L1397.9 640.8 L1399.7 639.8 L1400.0 640.2 L1402.0 642.4 L1404.1 641.2 L1406.6 644.0 L1408.6 646.2 L1410.3 644.9 L1412.9 650.2 L1416.1 654.8 L1418.2 652.3 L1420.7 650.2 L1422.4 651.2 L1424.0 650.2 L1426.5 652.3 L1429.0 648.5 L1431.8 652.0 L1434.0 650.7 L1436.5 649.0 L1438.5 650.2 L1439.8 649.5 L1441.5 650.2 L1443.9 648.5 L1446.1 647.4 L1447.8 648.2 L1448.9 647.4 L1451.7 650.2 L1453.4 649.5 L1454.7 650.3 L1457.7 647.4 L1460.5 650.2 L1463.8 653.5 L1467.2 650.3 L1469.3 654.5 L1471.0 652.8 L1473.0 656.2 L1475.8 660.1 L1477.9 656.8 L1480.9 652.8 L1482.4 654.5 L1484.6 652.3 L1487.1 650.3 L1489.2 654.0 L1491.5 659.0 L1494.9 654.8 L1497.5 660.1 L1499.5 657.3 L1502.0 653.2 L1503.6 657.8 L1507.0 651.5 L1508.6 653.5 L1512.8 645.7 L1516.1 653.5 L1518.9 649.0 L1521.9 653.5 L1524.7 647.4 L1527.4 644.0 L1529.0 645.7 L1531.8 642.4 L1534.3 639.1 L1536.0 640.7 L1539.0 636.1 L1540.6 638.2 L1542.6 635.3 L1545.1 632.4 L1547.6 635.8 L1550.9 639.6 L1552.9 637.4 L1555.9 640.7 L1558.9 642.9 L1562.2 639.6 L1565.0 643.2 L1567.5 648.2 L1569.2 645.7 L1573.0 654.0 L1576.1 647.4 L1578.3 652.3 L1580.8 659.8 L1583.3 668.1 L1585.2 674.4 L1587.4 669.4 L1589.6 665.1 L1591.0 667.3 L1592.7 663.4 L1594.0 666.8 L1596.0 663.9 L1599.0 670.1 L1603.2 663.4 L1606.1 668.9 L1607.6 667.3 L1610.3 671.1 L1612.3 668.4 L1613.9 670.6 L1615.6 678.0 L1618.9 688.0 L1621.9 678.4 L1623.9 682.2 L1625.2 680.0 L1627.2 678.9" fill="none" stroke="#2962ff" stroke-width="1.1" stroke-linejoin="round"/>
<!-- price axis labels -->
<g filter="url(#nf)">
<text x="1754" y="25" font-size="12" font-weight="normal" fill="#4a4e5a" text-anchor="start" textLength="42.2" lengthAdjust="spacingAndGlyphs">0.82000</text>
<text x="1754" y="64" font-size="12" font-weight="normal" fill="#4a4e5a" text-anchor="start" textLength="42.2" lengthAdjust="spacingAndGlyphs">0.80000</text>
<text x="1754" y="104" font-size="12" font-weight="normal" fill="#4a4e5a" text-anchor="start" textLength="42.2" lengthAdjust="spacingAndGlyphs">0.78000</text>
<text x="1754" y="143" font-size="12" font-weight="normal" fill="#4a4e5a" text-anchor="start" textLength="42.2" lengthAdjust="spacingAndGlyphs">0.76000</text>
<text x="1754" y="182" font-size="12" font-weight="normal" fill="#4a4e5a" text-anchor="start" textLength="42.2" lengthAdjust="spacingAndGlyphs">0.74000</text>
<text x="1754" y="222" font-size="12" font-weight="normal" fill="#4a4e5a" text-anchor="start" textLength="42.2" lengthAdjust="spacingAndGlyphs">0.72000</text>
<text x="1754" y="261" font-size="12" font-weight="normal" fill="#4a4e5a" text-anchor="start" textLength="42.2" lengthAdjust="spacingAndGlyphs">0.70000</text>
<text x="1754" y="301" font-size="12" font-weight="normal" fill="#4a4e5a" text-anchor="start" textLength="42.2" lengthAdjust="spacingAndGlyphs">0.68000</text>
<text x="1754" y="340" font-size="12" font-weight="normal" fill="#4a4e5a" text-anchor="start" textLength="42.2" lengthAdjust="spacingAndGlyphs">0.66000</text>
<text x="1754" y="379" font-size="12" font-weight="normal" fill="#4a4e5a" text-anchor="start" textLength="42.2" lengthAdjust="spacingAndGlyphs">0.64000</text>
<text x="1754" y="419" font-size="12" font-weight="normal" fill="#4a4e5a" text-anchor="start" textLength="42.2" lengthAdjust="spacingAndGlyphs">0.62000</text>
<text x="1754" y="458" font-size="12" font-weight="normal" fill="#4a4e5a" text-anchor="start" textLength="42.2" lengthAdjust="spacingAndGlyphs">0.60000</text>
<text x="1754" y="498" font-size="12" font-weight="normal" fill="#4a4e5a" text-anchor="start" textLength="42.2" lengthAdjust="spacingAndGlyphs">0.58000</text>
<text x="1754" y="537" font-size="12" font-weight="normal" fill="#4a4e5a" text-anchor="start" textLength="42.2" lengthAdjust="spacingAndGlyphs">0.56000</text>
<text x="1754" y="576" font-size="12" font-weight="normal" fill="#4a4e5a" text-anchor="start" textLength="42.2" lengthAdjust="spacingAndGlyphs">0.54000</text>
</g>
<rect x="1746" y="0" width="63" height="30" fill="url(#fade)"/>
<g filter="url(#nf)"><text x="1754.4" y="16" font-size="12" fill="#4a4e5a" textLength="19.6" lengthAdjust="spacingAndGlyphs">USD</text></g>
<!-- obv axis labels -->
<g filter="url(#nf)">
<text x="1754.3" y="640" font-size="12" font-weight="normal" fill="#4a4e5a" text-anchor="start" textLength="14.8" lengthAdjust="spacingAndGlyphs">4M</text>
<text x="1754.3" y="686" font-size="12" font-weight="normal" fill="#4a4e5a" text-anchor="start" textLength="6.2" lengthAdjust="spacingAndGlyphs">0</text>
<text x="1754.3" y="733" font-size="12" font-weight="normal" fill="#4a4e5a" text-anchor="start" textLength="20.6" lengthAdjust="spacingAndGlyphs">−4M</text>
<text x="1754.3" y="779" font-size="12" font-weight="normal" fill="#4a4e5a" text-anchor="start" textLength="20.6" lengthAdjust="spacingAndGlyphs">−8M</text>
</g>
<!-- obv legend -->
<g filter="url(#nf)">
<text x="4.1" y="620" font-size="12" fill="#4a4e5a" textLength="21.8" lengthAdjust="spacingAndGlyphs">OBV</text>
<text x="33.8" y="620" font-size="12" fill="#2962ff" textLength="48.5" lengthAdjust="spacingAndGlyphs">231.377K</text>
</g>
<!-- time labels -->
<g clip-path="url(#tclip)" filter="url(#nf)">
<text x="-8.4" y="801" font-size="12" font-weight="normal" fill="#4a4e5a" text-anchor="start" textLength="18.8" lengthAdjust="spacingAndGlyphs">Apr</text>
<text x="90.7" y="801" font-size="12" font-weight="normal" fill="#4a4e5a" text-anchor="start" textLength="15.6" lengthAdjust="spacingAndGlyphs">Jul</text>
<text x="185.3" y="801" font-size="12" font-weight="normal" fill="#4a4e5a" text-anchor="start" textLength="18.7" lengthAdjust="spacingAndGlyphs">Oct</text>
<text x="277.8" y="801" font-size="12" font-weight="bold" fill="#3f4350" text-anchor="start" textLength="27.4" lengthAdjust="spacingAndGlyphs">2019</text>
<text x="375.6" y="801" font-size="12" font-weight="normal" fill="#4a4e5a" text-anchor="start" textLength="18.8" lengthAdjust="spacingAndGlyphs">Apr</text>
<text x="473.7" y="801" font-size="12" font-weight="normal" fill="#4a4e5a" text-anchor="start" textLength="15.6" lengthAdjust="spacingAndGlyphs">Jul</text>
<text x="570.0" y="801" font-size="12" font-weight="normal" fill="#4a4e5a" text-anchor="start" textLength="18.7" lengthAdjust="spacingAndGlyphs">Oct</text>
<text x="662.1" y="801" font-size="12" font-weight="bold" fill="#3f4350" text-anchor="start" textLength="27.4" lengthAdjust="spacingAndGlyphs">2020</text>
<text x="761.2" y="801" font-size="12" font-weight="normal" fill="#4a4e5a" text-anchor="start" textLength="18.8" lengthAdjust="spacingAndGlyphs">Apr</text>
<text x="859.7" y="801" font-size="12" font-weight="normal" fill="#4a4e5a" text-anchor="start" textLength="15.6" lengthAdjust="spacingAndGlyphs">Jul</text>
<text x="955.6" y="801" font-size="12" font-weight="normal" fill="#4a4e5a" text-anchor="start" textLength="18.7" lengthAdjust="spacingAndGlyphs">Oct</text>
<text x="1047.8" y="801" font-size="12" font-weight="bold" fill="#3f4350" text-anchor="start" textLength="27.4" lengthAdjust="spacingAndGlyphs">2021</text>
<text x="1145.7" y="801" font-size="12" font-weight="normal" fill="#4a4e5a" text-anchor="start" textLength="18.8" lengthAdjust="spacingAndGlyphs">Apr</text>
<text x="1243.8" y="801" font-size="12" font-weight="normal" fill="#4a4e5a" text-anchor="start" textLength="15.6" lengthAdjust="spacingAndGlyphs">Jul</text>
<text x="1340.1" y="801" font-size="12" font-weight="normal" fill="#4a4e5a" text-anchor="start" textLength="18.7" lengthAdjust="spacingAndGlyphs">Oct</text>
<text x="1433.8" y="801" font-size="12" font-weight="bold" fill="#3f4350" text-anchor="start" textLength="27.4" lengthAdjust="spacingAndGlyphs">2022</text>
<text x="1533.0" y="801" font-size="12" font-weight="normal" fill="#4a4e5a" text-anchor="start" textLength="18.8" lengthAdjust="spacingAndGlyphs">Apr</text>
<text x="1631.2" y="801" font-size="12" font-weight="normal" fill="#4a4e5a" text-anchor="start" textLength="15.6" lengthAdjust="spacingAndGlyphs">Jul</text>
<text x="1727.6" y="801" font-size="12" font-weight="normal" fill="#4a4e5a" text-anchor="start" textLength="18.7" lengthAdjust="spacingAndGlyphs">Oct</text>
</g>
<!-- axis lines -->
<g shape-rendering="crispEdges">
<rect x="0" y="600" width="1809" height="1" fill="#2a2e39"/>
<rect x="0" y="783" width="1809" height="1" fill="#434651"/>
<rect x="1744" y="0" width="1" height="810" fill="#434651"/>
</g>
<!-- last price label -->
<path d="M1744 253h57a2 2 0 0 1 2 2v13a2 2 0 0 1 -2 2h-57z" fill="#26a69a"/>
<g filter="url(#nf)"><text x="1754" y="266" font-size="12" font-weight="bold" fill="#ffffff" textLength="42" lengthAdjust="spacingAndGlyphs">0.69766</text></g>
</svg>
</body></html>
